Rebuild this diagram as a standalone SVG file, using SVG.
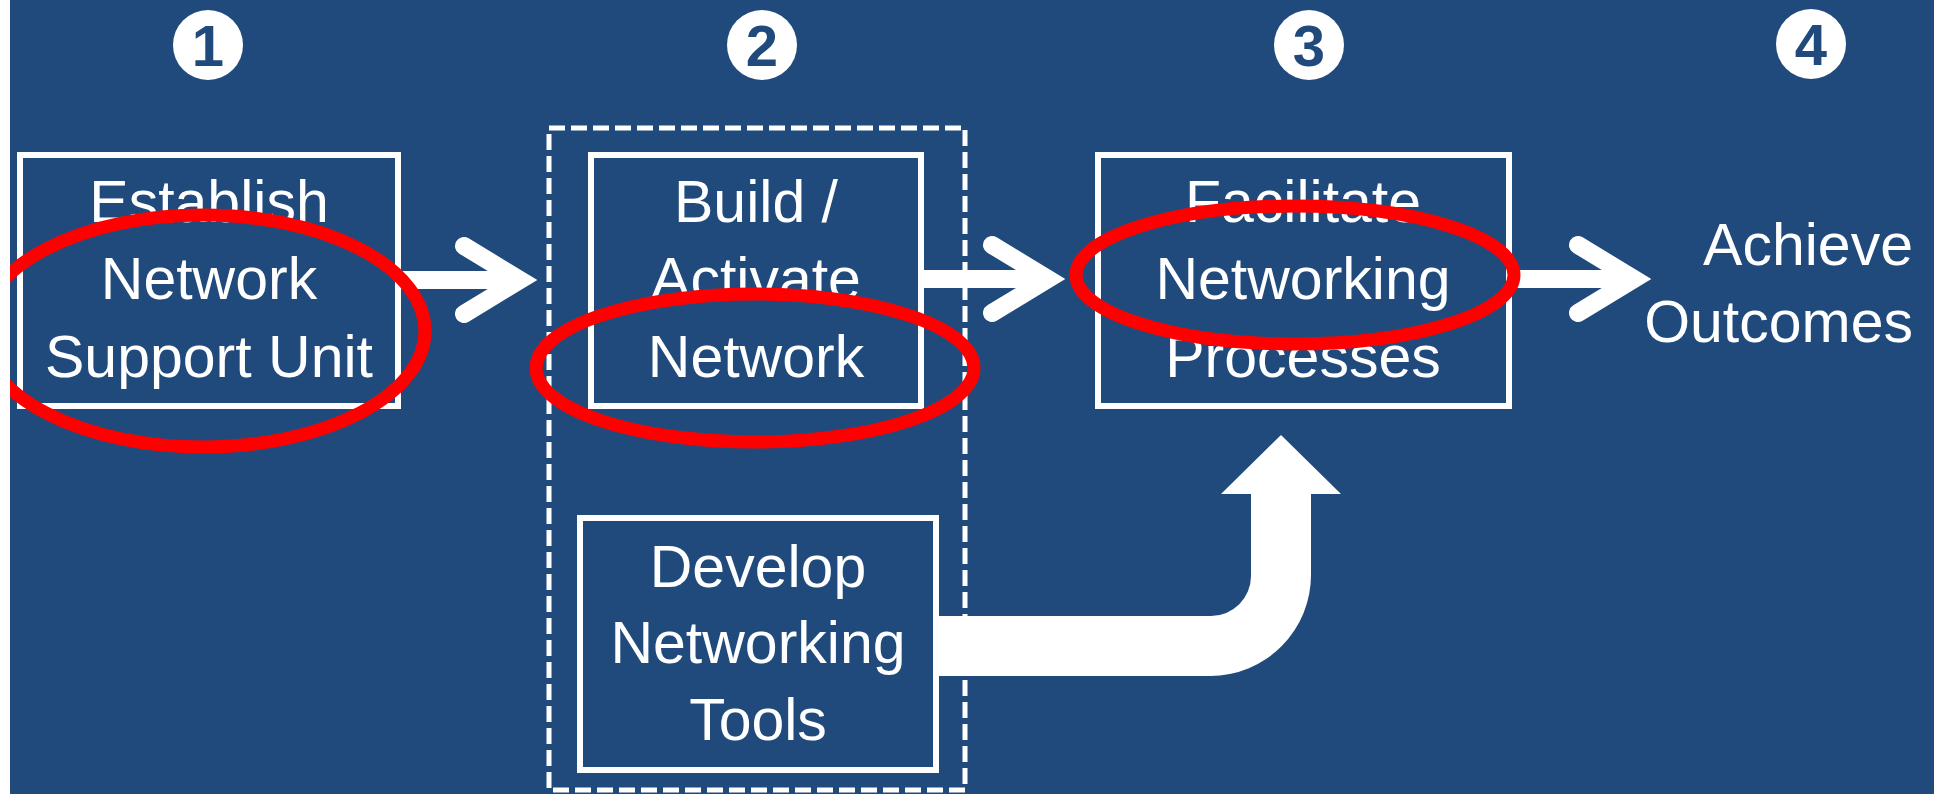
<svg xmlns="http://www.w3.org/2000/svg" width="1934" height="794" viewBox="0 0 1934 794">
  <style>
    .box { fill: none; stroke: #FFFFFF; stroke-width: 6; }
    .lbl { font-family: "Liberation Sans", Arial, sans-serif; font-size: 59px; fill: #FFFFFF; text-anchor: middle; }
    .num { font-family: "Liberation Sans", Arial, sans-serif; font-size: 58px; font-weight: bold; fill: #204A7C; text-anchor: middle; }
    .badge { fill: #FFFFFF; }
    .shaft { stroke: #FFFFFF; stroke-width: 18; fill: none; }
    .chev { stroke: #FFFFFF; stroke-width: 18; fill: none; stroke-linecap: round; stroke-linejoin: miter; }
    .ring { fill: none; stroke: #FF0000; stroke-width: 13; }
  </style>
  <rect x="0" y="0" width="1934" height="794" fill="#204A7C"/>

  <g id="step-numbers">
    <circle class="badge" cx="208" cy="45" r="35"/>
    <text class="num" x="208" y="66">1</text>
    <circle class="badge" cx="762" cy="45" r="35"/>
    <text class="num" x="762" y="66">2</text>
    <circle class="badge" cx="1309" cy="45" r="35"/>
    <text class="num" x="1309" y="66">3</text>
    <circle class="badge" cx="1811" cy="44" r="35"/>
    <text class="num" x="1811" y="65">4</text>
  </g>

  <g id="group-step2">
    <rect x="549" y="128" width="416" height="662" fill="none" stroke="#FFFFFF" stroke-width="5" stroke-dasharray="16 6" stroke-linejoin="round"/>
  </g>

  <g id="connectors">
    <line class="shaft" x1="401" y1="280" x2="520" y2="280"/>
    <polyline class="chev" points="464,246 520,280 464,314"/>
    <line class="shaft" x1="924" y1="279" x2="1048" y2="279"/>
    <polyline class="chev" points="992,245 1048,279 992,313"/>
    <line class="shaft" x1="1512" y1="279" x2="1634" y2="279"/>
    <polyline class="chev" points="1578,245 1634,279 1578,313"/>
    <path d="M 939 616 L 1211 616 A 40 40 0 0 0 1251 576 L 1251 494 L 1221 494 L 1281 435 L 1341 494 L 1311 494 L 1311 574 A 101 101 0 0 1 1210 676 L 939 676 Z" fill="#FFFFFF"/>
  </g>

  <g id="node-establish">
    <rect class="box" x="20" y="155" width="378" height="251"/>
    <text class="lbl" x="209" y="222">Establish</text>
    <text class="lbl" x="209" y="299">Network</text>
    <text class="lbl" x="209" y="377">Support Unit</text>
  </g>

  <g id="node-build">
    <rect class="box" x="591" y="155" width="330" height="251"/>
    <text class="lbl" x="756" y="222">Build /</text>
    <text class="lbl" x="756" y="299">Activate</text>
    <text class="lbl" x="756" y="377">Network</text>
  </g>

  <g id="node-facilitate">
    <rect class="box" x="1098" y="155" width="411" height="251"/>
    <text class="lbl" x="1303" y="222">Facilitate</text>
    <text class="lbl" x="1303" y="299">Networking</text>
    <text class="lbl" x="1303" y="377">Processes</text>
  </g>

  <g id="node-develop">
    <rect class="box" x="580" y="518" width="356" height="252"/>
    <text class="lbl" x="758" y="587">Develop</text>
    <text class="lbl" x="758" y="663">Networking</text>
    <text class="lbl" x="758" y="740">Tools</text>
  </g>

  <g id="node-achieve">
    <text class="lbl" x="1913" y="265" style="text-anchor:end">Achieve</text>
    <text class="lbl" x="1913" y="342" style="text-anchor:end">Outcomes</text>
  </g>

  <g id="highlights">
    <ellipse class="ring" cx="203" cy="331" rx="222" ry="116"/>
    <ellipse class="ring" cx="755" cy="368" rx="219" ry="74"/>
    <ellipse class="ring" cx="1295" cy="275" rx="219" ry="69"/>
  </g>

  <rect x="0" y="0" width="10" height="794" fill="#FFFFFF"/>
</svg>
